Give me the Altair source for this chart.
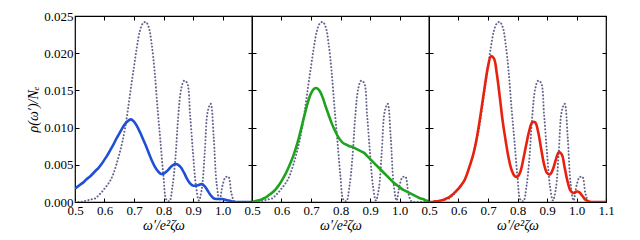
import altair as alt
import pandas as pd

xs = [0.50, 0.51, 0.52, 0.53, 0.54, 0.55, 0.56, 0.57, 0.58, 0.59,
      0.60, 0.61, 0.62, 0.63, 0.64, 0.65, 0.66, 0.67, 0.68, 0.69,
      0.70, 0.71, 0.72, 0.73, 0.74, 0.75, 0.76, 0.77, 0.78, 0.79,
      0.80, 0.81, 0.82, 0.83, 0.84, 0.85, 0.86, 0.87, 0.88, 0.89,
      0.90, 0.91, 0.92, 0.93, 0.94, 0.95, 0.96, 0.97, 0.98, 0.99,
      1.00, 1.01, 1.02, 1.03, 1.04, 1.05, 1.06, 1.07, 1.08, 1.09, 1.10]

reference = [0.0, 0.0, 0.0, 0.0001, 0.0002, 0.0003, 0.0004, 0.0005, 0.0009, 0.0013,
             0.0018, 0.0023, 0.0029, 0.0038, 0.0050, 0.0064, 0.0080, 0.0100, 0.0126, 0.0155,
             0.0182, 0.0209, 0.0230, 0.0240, 0.0242, 0.0235, 0.0212, 0.0175, 0.0125, 0.0080,
             0.0034, 0.0003, 0.0001, 0.0020, 0.0057, 0.0115, 0.0152, 0.0163, 0.0160, 0.0118,
             0.0066, 0.0022, 0.0002, 0.0018, 0.0068, 0.0122, 0.0132, 0.0088, 0.0025, 0.0002,
             0.0022, 0.0033, 0.0034, 0.0012, 0.0001, 0.0, 0.0, 0.0, 0.0, 0.0, 0.0]

blue = [0.0018, 0.0021, 0.0024, 0.0027, 0.0031, 0.0034, 0.0038, 0.0042, 0.0046, 0.0051,
        0.0057, 0.0063, 0.0070, 0.0077, 0.0085, 0.0092, 0.0099, 0.0105, 0.0109, 0.0111,
        0.0108, 0.0102, 0.0094, 0.0085, 0.0076, 0.0066, 0.0056, 0.0048, 0.0042, 0.0038,
        0.0038, 0.0041, 0.0045, 0.0049, 0.0051, 0.0050, 0.0046, 0.0039, 0.0031, 0.0025,
        0.0022, 0.0022, 0.0023, 0.0024, 0.0021, 0.0015, 0.0009, 0.0005, 0.0004, 0.0004,
        0.0004, 0.0003, 0.0002, 0.0001, 0.0, 0.0, 0.0, 0.0, 0.0, 0.0, 0.0]

green = [0.0000, 0.0001, 0.0002, 0.0003, 0.0005, 0.0007, 0.0010, 0.0013, 0.0017, 0.0022,
         0.0028, 0.0035, 0.0043, 0.0052, 0.0062, 0.0074, 0.0088, 0.0104, 0.0120, 0.0135,
         0.0146, 0.0152, 0.0153, 0.0149, 0.0140, 0.0128, 0.0117, 0.0106, 0.0097, 0.0089,
         0.0083, 0.0079, 0.0077, 0.0075, 0.0074, 0.0072, 0.0070, 0.0068, 0.0066, 0.0062,
         0.0058, 0.0054, 0.0050, 0.0046, 0.0042, 0.0038, 0.0034, 0.0030, 0.0026, 0.0023,
         0.0020, 0.0017, 0.0015, 0.0013, 0.0011, 0.0009, 0.0007, 0.0005, 0.0004, 0.0002, 0.0001]

red = [0.0000, 0.0000, 0.0001, 0.0001, 0.0002, 0.0003, 0.0005, 0.0007, 0.0010, 0.0014,
       0.0018, 0.0023, 0.0029, 0.0039, 0.0051, 0.0064, 0.0082, 0.0105, 0.0131, 0.0158,
       0.0182, 0.0196, 0.0193, 0.0172, 0.0141, 0.0108, 0.0082, 0.0059, 0.0043, 0.0035,
       0.0034, 0.0041, 0.0058, 0.0078, 0.0096, 0.0107, 0.0107, 0.0094, 0.0072, 0.0051,
       0.0039, 0.0037, 0.0044, 0.0057, 0.0067, 0.0064, 0.0046, 0.0027, 0.0015, 0.0012,
       0.0014, 0.0013, 0.0008, 0.0003, 0.0001, 0.0, 0.0, 0.0, 0.0, 0.0, 0.0]

x_ticks_short = [0.5, 0.6, 0.7, 0.8, 0.9, 1.0]
x_ticks_full = [0.5, 0.6, 0.7, 0.8, 0.9, 1.0, 1.1]
y_ticks = [0.0, 0.005, 0.010, 0.015, 0.020, 0.025]

x_title = "ω′/e²ζω"
y_title = "ρ(ω′)/Nₑ"

df = pd.DataFrame({"x": xs, "ref": reference, "blue": blue, "green": green, "red": red})

xscale = alt.Scale(domain=[0.5, 1.1], nice=False, zero=False)
yscale = alt.Scale(domain=[0.0, 0.025], nice=False)

TICK = 4


def panel(col, color, first, last):
    xb = dict(orient="bottom", values=x_ticks_full if last else x_ticks_short,
              format=".1f", tickSize=TICK, offset=-TICK, domain=False, grid=False,
              labelPadding=2, titlePadding=1, title=x_title, labelFlush=False)
    yl = dict(orient="left", values=y_ticks, format=".3f", tickSize=TICK,
              offset=-TICK, domain=False, grid=False, labels=first,
              labelPadding=2, titlePadding=3)
    if first:
        yl["title"] = y_title
    else:
        yl["title"] = ""
    xt = dict(orient="top", values=x_ticks_full, tickSize=TICK, offset=-TICK,
              domain=False, grid=False, labels=False, title="")
    yr = dict(orient="right", values=y_ticks, tickSize=TICK, offset=-TICK,
              domain=False, grid=False, labels=False, title="")
    base = alt.Chart(df)
    ref_line = base.mark_line(color="#64648c", strokeWidth=2.0, strokeDash=[0.1, 3.3],
                              strokeCap="round",
                              interpolate="catmull-rom", clip=True).encode(
        x=alt.X("x:Q", scale=xscale, axis=alt.Axis(**xb)),
        y=alt.Y("ref:Q", scale=yscale, axis=alt.Axis(**yl)),
    )
    main_line = base.mark_line(color=color, strokeWidth=2.6,
                               interpolate="catmull-rom", clip=True).encode(
        x=alt.X("x:Q", scale=xscale, axis=alt.Axis(**xt)),
        y=alt.Y(col + ":Q", scale=yscale, axis=alt.Axis(**yr)),
    )
    return alt.layer(ref_line, main_line).resolve_axis(
        x="independent", y="independent").properties(width=177, height=186)


chart = alt.hconcat(
    panel("blue", "#1f4fd6", True, False),
    panel("green", "#1ea31e", False, False),
    panel("red", "#e8210f", False, True),
    spacing=0,
    bounds="flush",
).properties(
    padding={"left": 18, "top": 1, "right": 5, "bottom": 0}
).configure_view(
    stroke="black", strokeWidth=1.2
).configure_axis(
    labelFont="Liberation Serif", titleFont="Liberation Serif",
    labelFontSize=13, titleFontSize=14, titleFontWeight="normal",
    titleFontStyle="italic",
    labelColor="black", titleColor="black", tickColor="black", tickWidth=1,
)

chart.save("out.html", embed_options={"renderer": "svg", "actions": False})
